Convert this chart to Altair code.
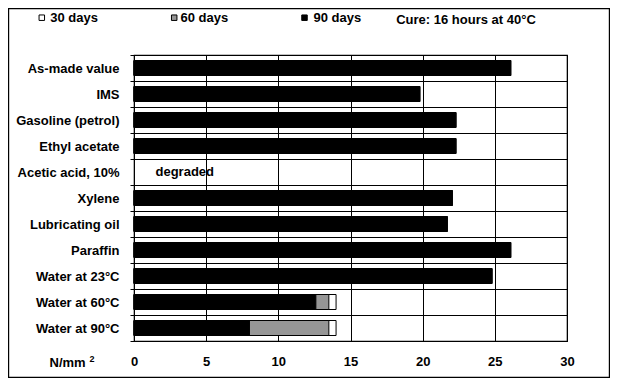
import altair as alt
import pandas as pd

categories = ["As-made value", "IMS", "Gasoline (petrol)", "Ethyl acetate",
              "Acetic acid, 10%", "Xylene", "Lubricating oil", "Paraffin",
              "Water at 23°C", "Water at 60°C", "Water at 90°C"]
series = ["30 days", "60 days", "90 days"]
days30 = [26.1, 19.8, 22.3, 22.3, None, 22.05, 21.7, 26.1, 24.8, 14.0, 14.0]
days60 = [26.1, 19.8, 22.3, 22.3, None, 22.05, 21.7, 26.1, 24.8, 13.5, 13.5]
days90 = [26.1, 19.8, 22.3, 22.3, None, 22.05, 21.7, 26.1, 24.8, 12.6, 8.0]
colors = ["#ffffff", "#969696", "#000000"]
x_ticks = [0, 5, 10, 15, 20, 25, 30]
note_text = "degraded"
note_category = "Acetic acid, 10%"
cure_text = "Cure: 16 hours at 40°C"
unit_text = "N/mm"
unit_sup = "2"

rows = []
for s, vals in zip(series, [days30, days60, days90]):
    for c, v in zip(categories, vals):
        if v is not None:
            rows.append({"category": c, "series": s, "value": v})
df = pd.DataFrame(rows)

FONT = "Liberation Sans"
FS = 13
W, H = 433, 286

yscale = alt.Scale(domain=categories, paddingInner=0, paddingOuter=0)
yaxis = alt.Axis(title=None, grid=True, gridColor="black", gridWidth=1,
                 bandPosition=0, ticks=True, tickSize=4, tickColor="black",
                 tickBand="extent", domain=False,
                 labelFont=FONT, labelFontSize=FS, labelFontWeight="bold",
                 labelColor="black", labelPadding=11, labelBound=False)
ycat = alt.Y("category:N", sort=categories, scale=yscale, axis=yaxis)

bars = alt.Chart(df).mark_bar(size=15, stroke="black", strokeWidth=1).encode(
    x=alt.X("value:Q", stack=None,
            scale=alt.Scale(domain=[0, 30], nice=False),
            axis=alt.Axis(title=None, values=x_ticks, grid=True, gridColor="black",
                          gridWidth=1, ticks=False, domain=False, labelFlush=False,
                          labelFont=FONT, labelFontSize=FS, labelFontWeight="bold",
                          labelColor="black", labelPadding=14)),
    y=ycat,
    fill=alt.Fill("series:N", scale=alt.Scale(domain=series, range=colors), legend=None),
    order=alt.Order("series:N"),
)

note = alt.Chart(pd.DataFrame({"category": [note_category], "t": [note_text]})).mark_text(
    align="left", baseline="middle", font=FONT, fontSize=FS, fontWeight="bold",
    color="black", dx=21.5
).encode(x=alt.value(0), y=ycat, text="t:N")

leg_df = pd.DataFrame({"series": series, "sx": [-92.2, 40.2, 170.5], "tx": [-83.8, 46.5, 179.5]})
leg_sq = alt.Chart(leg_df).mark_point(shape="square", filled=True, size=30,
                                      stroke="black", strokeWidth=1, opacity=1).encode(
    x=alt.X("sx:Q", scale=None), y=alt.value(-37.3),
    fill=alt.Fill("series:N", scale=alt.Scale(domain=series, range=colors), legend=None))
leg_tx = alt.Chart(leg_df).mark_text(align="left", baseline="middle", font=FONT,
                                     fontSize=FS, fontWeight="bold", color="black").encode(
    x=alt.X("tx:Q", scale=None), y=alt.value(-37.3), text="series:N")

cure = alt.Chart(pd.DataFrame({"t": [cure_text]})).mark_text(
    align="left", baseline="middle", font=FONT, fontSize=FS, fontWeight="bold", color="black"
).encode(x=alt.value(262.2), y=alt.value(-35), text="t:N")

unit = alt.Chart(pd.DataFrame({"t": [unit_text]})).mark_text(
    align="left", baseline="middle", font=FONT, fontSize=FS, fontWeight="bold", color="black"
).encode(x=alt.value(-84.5), y=alt.value(307.7), text="t:N")
sup = alt.Chart(pd.DataFrame({"t": [unit_sup]})).mark_text(
    align="left", baseline="middle", font=FONT, fontSize=9, fontWeight="bold", color="black"
).encode(x=alt.value(-44.5), y=alt.value(303.5), text="t:N")

frame = alt.Chart(pd.DataFrame({"t": [0]})).mark_rect(
    fill=None, stroke="black", strokeWidth=1.2
).encode(x=alt.value(-125.4), x2=alt.value(475.4), y=alt.value(-46.4), y2=alt.value(322.4))

chart = alt.layer(bars, note, leg_sq, leg_tx, cure, unit, sup, frame).properties(
    width=W, height=H,
    background="white",
    autosize=alt.AutoSizeParams(type="none"),
    padding={"left": 126, "top": 47, "right": 43, "bottom": 37},
).configure_view(stroke="black", strokeWidth=1.2)

chart.save("out.html", embed_options={"renderer": "svg", "actions": False})
